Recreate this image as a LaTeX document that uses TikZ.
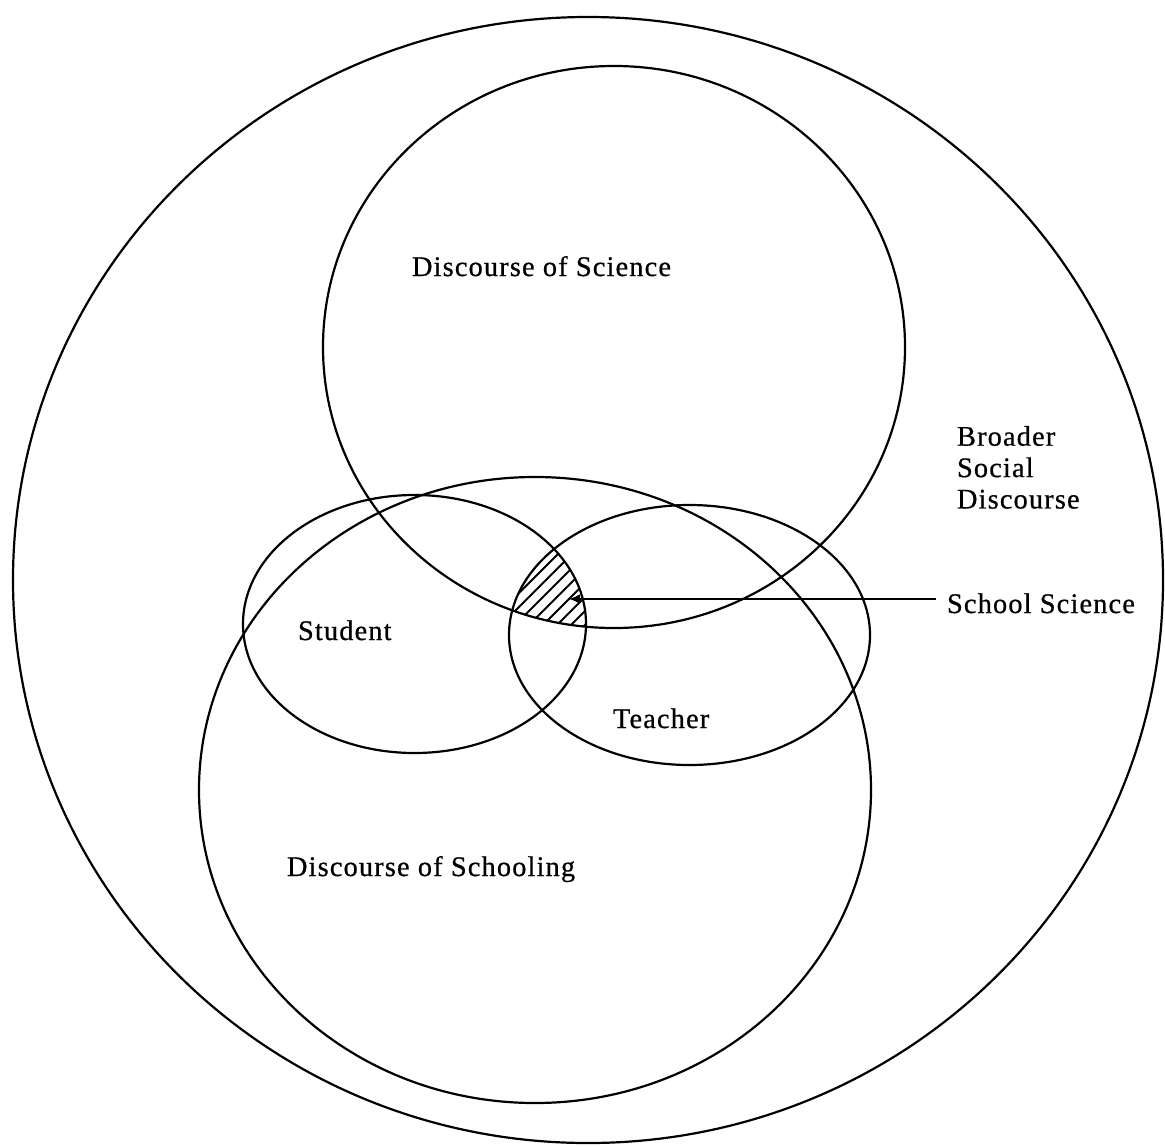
\documentclass[tikz,border=0pt]{standalone}
\usepackage{fontspec}
\setmainfont{Liberation Serif}[LetterSpace=4,FakeBold=0.6]
\usetikzlibrary{arrows.meta}
\begin{document}
\begin{tikzpicture}[x=1bp,y=-1bp,
  ring/.style={draw=black, line width=2.2bp},
  lbl/.style={font=\fontsize{28.5}{31.5}\selectfont, inner sep=0pt, outer sep=0pt, anchor=base west},
  hatch/.style={draw=black, line width=2bp},
  pointer/.style={draw=black, line width=2bp, -{Latex[length=11bp,width=10bp]}}]
\useasboundingbox (0,0) rectangle (1165,1147);
% ellipses
\draw[ring] (588,580) ellipse [x radius=575bp, y radius=563bp];
\draw[ring] (614,347) ellipse [x radius=291bp, y radius=281bp];
\draw[ring] (535,790) ellipse [x radius=336bp, y radius=313bp];
\draw[ring] (414.5,624) ellipse [x radius=171.5bp, y radius=129bp];
\draw[ring] (689.5,635) ellipse [x radius=180.5bp, y radius=130bp];
% hatched school science region
\begin{scope}
  \clip (414.5,624) ellipse [x radius=171.5bp, y radius=129bp];
  \clip (689.5,635) ellipse [x radius=180.5bp, y radius=130bp];
  \clip (614,347) ellipse [x radius=291bp, y radius=281bp];
  \foreach \c in {1098,1112,...,1230}
    \draw[hatch] (480,\c-480) -- (640,\c-640);
\end{scope}
% labels
\node[lbl] (sci) at (412,276) {Discourse of Science};
\node[lbl] (sch) at (287,876) {Discourse of Schooling};
\node[lbl] (stu) at (298,640) {Student};
\node[lbl] (tea) at (613,728) {Teacher};
\node[lbl, anchor=north west, align=left] (bsd) at (957,426) {Broader\\Social\\Discourse};
\node[lbl] (ss) at (947,613) {School Science};
% pointer
\coordinate (tail) at (936,599);
\coordinate (tip) at (569,599);
\draw[pointer] (tail) -- (tip);
\end{tikzpicture}
\end{document}
